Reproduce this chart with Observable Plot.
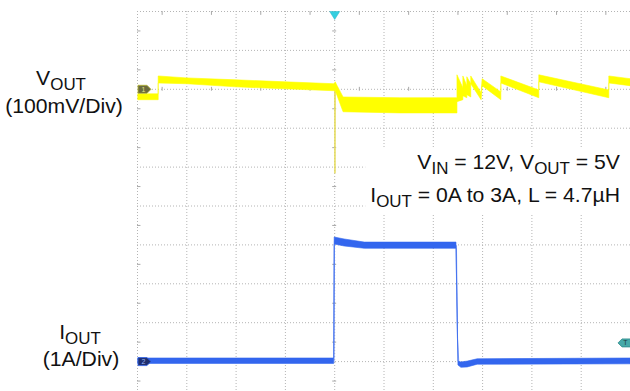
<!DOCTYPE html>
<html><head><meta charset="utf-8">
<script src="https://cdn.jsdelivr.net/npm/d3@7"></script>
<script src="https://cdn.jsdelivr.net/npm/@observablehq/plot@0.6"></script>
<style>
html,body{margin:0;padding:0;background:#fff;}
#chart{width:630px;height:391px;overflow:hidden;}
#chart svg{display:block;}
</style></head><body><div id="chart"></div>
<script>
// ---- Data (time in screen divisions, Vout in mV vs ch1 ref, Iout in A) ----
const gridDivX = [0,1,2,3,4,5,6,7,8,9,10];
const gridDivY = [0,1,2,3,4,5,6,7,8,9,10];
const minorDiv = [0.5,1.5,2.5,3.5,4.5,5.5,6.5,7.5,8.5,9.5];

// Vout envelope (noise band), 100 mV/div
const voutTime = [0.02,0.43,0.43,1.01,2.01,3.00,4.00,4.02,4.06,4.18,5.33,6.49,6.49,6.61,6.61,6.69,6.69,6.77,6.77,6.98,7.00,7.38,7.38,8.15,8.15,9.57,9.57,10.0];
const voutHigh = [-13,-13,33,28,23,18,13,18,8,-21,-23,-23,36,3,33,8,31,13,33,-10,26,-8,33,-3,36,-3,33,26];
const voutLow  = [-28,-28,15,13,5,0,-5,-5,-18,-59,-62,-62,-33,-28,-18,-23,-15,-21,13,-28,8,-28,15,-23,18,-23,15,8];
// fast Vout spike at the load step
const voutSpikeTime = [4.00,4.005,4.012];
const voutSpikeMv   = [5,-216,-5];

// Iout envelope, 1 A/div
const ioutTime = [0.02,3.99,4.00,4.20,4.61,6.47,6.51,6.57,6.70,6.90,10.0];
const ioutHigh = [0.08,0.08,3.19,3.14,3.06,3.06,0.00,-0.02,0.00,0.06,0.08];
const ioutLow  = [-0.06,-0.06,3.01,2.96,2.90,2.90,-0.10,-0.16,-0.15,-0.08,-0.07];
// fast current edges
const edgeId   = ["rise","rise","rise","fall","fall","fall"];
const edgeTime = [3.985,3.995,4.02,6.47,6.49,6.52];
const edgeAmp  = [0.0,3.10,3.15,2.98,0.60,-0.08];

// reference markers
const ch1RefMv = 0, ch2RefA = 0, trigLevelA = 0.48, trigTimeDiv = 4;

// ---- helpers ----
const vDiv = mv => 8 + mv / 100;   // ch1 ground at 8 div
const iDiv = a => 1 + a;           // ch2 ground at 1 div

const vout = voutTime.map((t,i)=>({t, hi: voutHigh[i], lo: voutLow[i]}));
const spike = voutSpikeTime.map((t,i)=>({t, v: voutSpikeMv[i]}));
const iout = ioutTime.map((t,i)=>({t, hi: ioutHigh[i], lo: ioutLow[i]}));
const edges = edgeTime.map((t,i)=>({t, a: edgeAmp[i], id: edgeId[i]}));

function poly(pts){
  return {draw(ctx, size){
    const r = Math.sqrt(size/Math.PI)/6.5;
    pts.forEach(([x,y],i)=> i ? ctx.lineTo(x*r,y*r) : ctx.moveTo(x*r,y*r));
    ctx.closePath();
  }};
}
const arrowRight = poly([[-6.5,-4],[2.5,-4],[6.5,0],[2.5,4],[-6.5,4]]);
const arrowLeft  = poly([[6.5,-4],[-2.5,-4],[-6.5,0],[-2.5,4],[6.5,4]]);
const triDown    = poly([[-5,-4],[5,-4],[0,4]]);

const gridStyle = {stroke:"#b4b4b4", strokeDasharray:"1,2", strokeWidth:1};
const tickStyle = {stroke:"#a8a8a8", strokeWidth:1};

const plot = Plot.plot({
  width: 630, height: 391,
  marginLeft: 137, marginRight: 0, marginTop: 11, marginBottom: 0,
  x: {domain:[0,10], range:[137,630], axis:null},
  y: {domain:[0,10], range:[400,11], axis:null},
  style: {background:"#fff", overflow:"hidden"},
  marks: [
    Plot.ruleX(gridDivX, {x: d=>d, ...gridStyle}),
    Plot.ruleY(gridDivY, {y: d=>d, ...gridStyle}),
    Plot.ruleX(minorDiv, {x: d=>d, y1: ()=>10, y2: ()=>9.9, ...tickStyle}),
    Plot.ruleX(minorDiv, {x: d=>d, y1: ()=>7.95, y2: ()=>8.05, ...tickStyle}),
    Plot.ruleY(minorDiv, {y: d=>d, x1: ()=>0, x2: ()=>0.07, ...tickStyle}),
    Plot.ruleY(minorDiv, {y: d=>d, x1: ()=>3.96, x2: ()=>4.04, ...tickStyle}),
    // Vout
    Plot.line(spike, {x:"t", y: d=>vDiv(d.v), stroke:"#e6dc5a", strokeWidth:1}),
    Plot.areaY(vout, {x:"t", y1: d=>vDiv(d.lo), y2: d=>vDiv(d.hi), fill:"#ffff00", stroke:"#ffff00", strokeWidth:0.6}),
    // Iout
    Plot.line(edges, {x:"t", y: d=>iDiv(d.a), z:"id", stroke:"#8ea6f2", strokeWidth:1}),
    Plot.areaY(iout, {x:"t", y1: d=>iDiv(d.lo), y2: d=>iDiv(d.hi), fill:"#3366ee", stroke:"#3366ee", strokeWidth:0.6}),
    // markers
    Plot.dot([ch1RefMv], {x: ()=>0, y: d=>vDiv(d), dx:7, r:6.5, symbol: arrowRight, fill:"#6b6b3e", stroke:"#b8b830", strokeWidth:0.8}),
    Plot.text([ch1RefMv], {x: ()=>0, y: d=>vDiv(d), dx:6, text: ()=>"1", fontSize:7, fill:"#e0e080", fontFamily:"Liberation Sans, Arial, sans-serif"}),
    Plot.dot([ch2RefA], {x: ()=>0, y: d=>iDiv(d), dx:7, r:6.5, symbol: arrowRight, fill:"#1e2f70", stroke:"#3366ee", strokeWidth:0.8}),
    Plot.text([ch2RefA], {x: ()=>0, y: d=>iDiv(d), dx:6, text: ()=>"2", fontSize:7, fill:"#9fb4f5", fontFamily:"Liberation Sans, Arial, sans-serif"}),
    Plot.dot([trigLevelA], {x: ()=>10, y: d=>iDiv(d), dx:-6, r:6.5, symbol: arrowLeft, fill:"#45a9a9", stroke:"#2d8a8a", strokeWidth:0.8}),
    Plot.text([trigLevelA], {x: ()=>10, y: d=>iDiv(d), dx:-5, text: ()=>"T", fontSize:7, fill:"#1d3f3f", fontFamily:"Liberation Sans, Arial, sans-serif"}),
    Plot.dot([trigTimeDiv], {x: d=>d, y: ()=>10, dy:4, r:6.5, symbol: triDown, fill:"#33cfe0", stroke:"#22b8c8", strokeWidth:0.5})
  ]
});
document.getElementById("chart").appendChild(plot);

// ---- annotations (rich text with subscripts) ----
const FONT = "Liberation Sans, Arial, sans-serif";
const FS = 20, SUB = 16, SX = 1.06;
const svg = d3.select(plot);
function rich(g, x, y, anchor, parts){
  const t = g.append("text")
    .attr("transform", `translate(${x},${y}) scale(${SX},1)`)
    .attr("text-anchor", anchor).attr("font-family", FONT).attr("font-size", FS)
    .attr("fill", "#111").style("white-space","pre");
  let sub = false;
  parts.forEach(p => {
    const isSub = typeof p === "object";
    const s = t.append("tspan").text(isSub ? p.sub : p);
    if (isSub) { s.attr("font-size", SUB); if(!sub) s.attr("dy", 5); sub = true; }
    else { if (sub) s.attr("dy", -5); sub = false; }
  });
  return t;
}
const note = svg.append("g");
const bg = note.append("rect").attr("fill","#fff");
rich(note, 620, 169, "end", ["V",{sub:"IN"}," = 12V, V",{sub:"OUT"}," = 5V"]);
rich(note, 620, 202, "end", ["I",{sub:"OUT"}," = 0A to 3A, L = 4.7\u00b5H"]);
const bb = note.node().getBBox();
bg.attr("x", bb.x - 5).attr("y", bb.y - 2).attr("width", 630 - (bb.x - 5)).attr("height", bb.height + 6);

const lab = svg.append("g");
rich(lab, 61, 85, "middle", ["V",{sub:"OUT"}]);
rich(lab, 64, 113, "middle", ["(100mV/Div)"]);
rich(lab, 80, 339, "middle", ["I",{sub:"OUT"}]);
rich(lab, 81, 366, "middle", ["(1A/Div)"]);
</script></body></html>
